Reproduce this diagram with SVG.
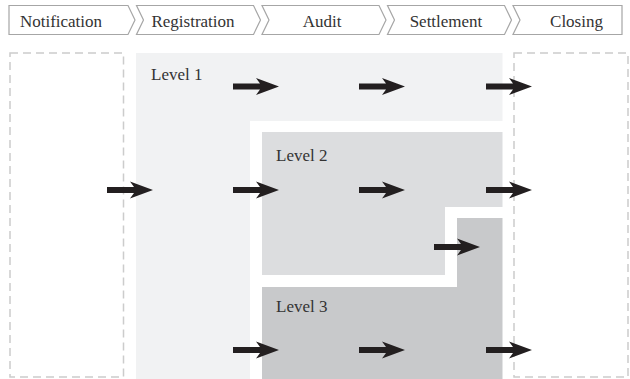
<svg xmlns="http://www.w3.org/2000/svg" width="630" height="379" viewBox="0 0 630 379">
<style>
.chev{fill:#ffffff;stroke:#a6a6a6;stroke-width:1.2;stroke-linejoin:miter}
.lbl{font-family:"Liberation Serif","Times New Roman",serif;font-size:17px;fill:#333333}
.dash{fill:none;stroke:#cccccc;stroke-width:1.5;stroke-dasharray:8,5}
.arr{fill:#231f20}
</style>
<defs>
<path id="arrow" d="M0,-3 H27 L23,-8.5 L46,0 L23,8.5 L27,3 H0 Z"/>
</defs>
<rect width="630" height="379" fill="#ffffff"/>
<g id="stage-notification">
<path class="chev" d="M9,5.5 H128 L135,20 L128,34.5 H9 Z"/>
<text class="lbl" x="61" y="27" text-anchor="middle">Notification</text>
</g>
<g id="stage-registration">
<path class="chev" d="M136.5,5.5 H253.5 L260.5,20 L253.5,34.5 H136.5 L143.5,20 Z"/>
<text class="lbl" x="193" y="27" text-anchor="middle">Registration</text>
</g>
<g id="stage-audit">
<path class="chev" d="M262,5.5 H379 L386,20 L379,34.5 H262 L269,20 Z"/>
<text class="lbl" x="322" y="27" text-anchor="middle">Audit</text>
</g>
<g id="stage-settlement">
<path class="chev" d="M387.5,5.5 H504.5 L511.5,20 L504.5,34.5 H387.5 L394.5,20 Z"/>
<text class="lbl" x="446" y="27" text-anchor="middle">Settlement</text>
</g>
<g id="stage-closing">
<path class="chev" d="M513,5.5 H622 V34.5 H513 L520,20 Z"/>
<text class="lbl" x="576.5" y="27" text-anchor="middle">Closing</text>
</g>
<g id="column-left">
<rect class="dash" x="10" y="53" width="113.5" height="324"/>
</g>
<g id="column-right">
<rect class="dash" x="514" y="53" width="114" height="324"/>
</g>
<g id="level-1">
<path fill="#f1f2f3" d="M136,53 H502.5 V121 H250 V379 H136 Z"/>
<text class="lbl" x="151" y="80">Level 1</text>
</g>
<g id="level-2">
<path fill="#dcdddf" d="M262,132 H502.5 V207 H445 V275 H262 Z"/>
<text class="lbl" x="276" y="161">Level 2</text>
</g>
<g id="level-3">
<path fill="#c8c9cb" d="M457,218 H502.5 V379 H262 V287 H457 Z"/>
<text class="lbl" x="276" y="312">Level 3</text>
</g>
<g id="connectors" class="arr">
<use href="#arrow" x="233" y="86.5"/>
<use href="#arrow" x="359" y="86.5"/>
<use href="#arrow" x="486" y="86.5"/>
<use href="#arrow" x="107" y="190"/>
<use href="#arrow" x="233" y="190"/>
<use href="#arrow" x="359" y="190"/>
<use href="#arrow" x="486" y="190"/>
<use href="#arrow" x="434" y="247"/>
<use href="#arrow" x="233" y="350"/>
<use href="#arrow" x="359" y="350"/>
<use href="#arrow" x="486" y="350"/>
</g>
</svg>
